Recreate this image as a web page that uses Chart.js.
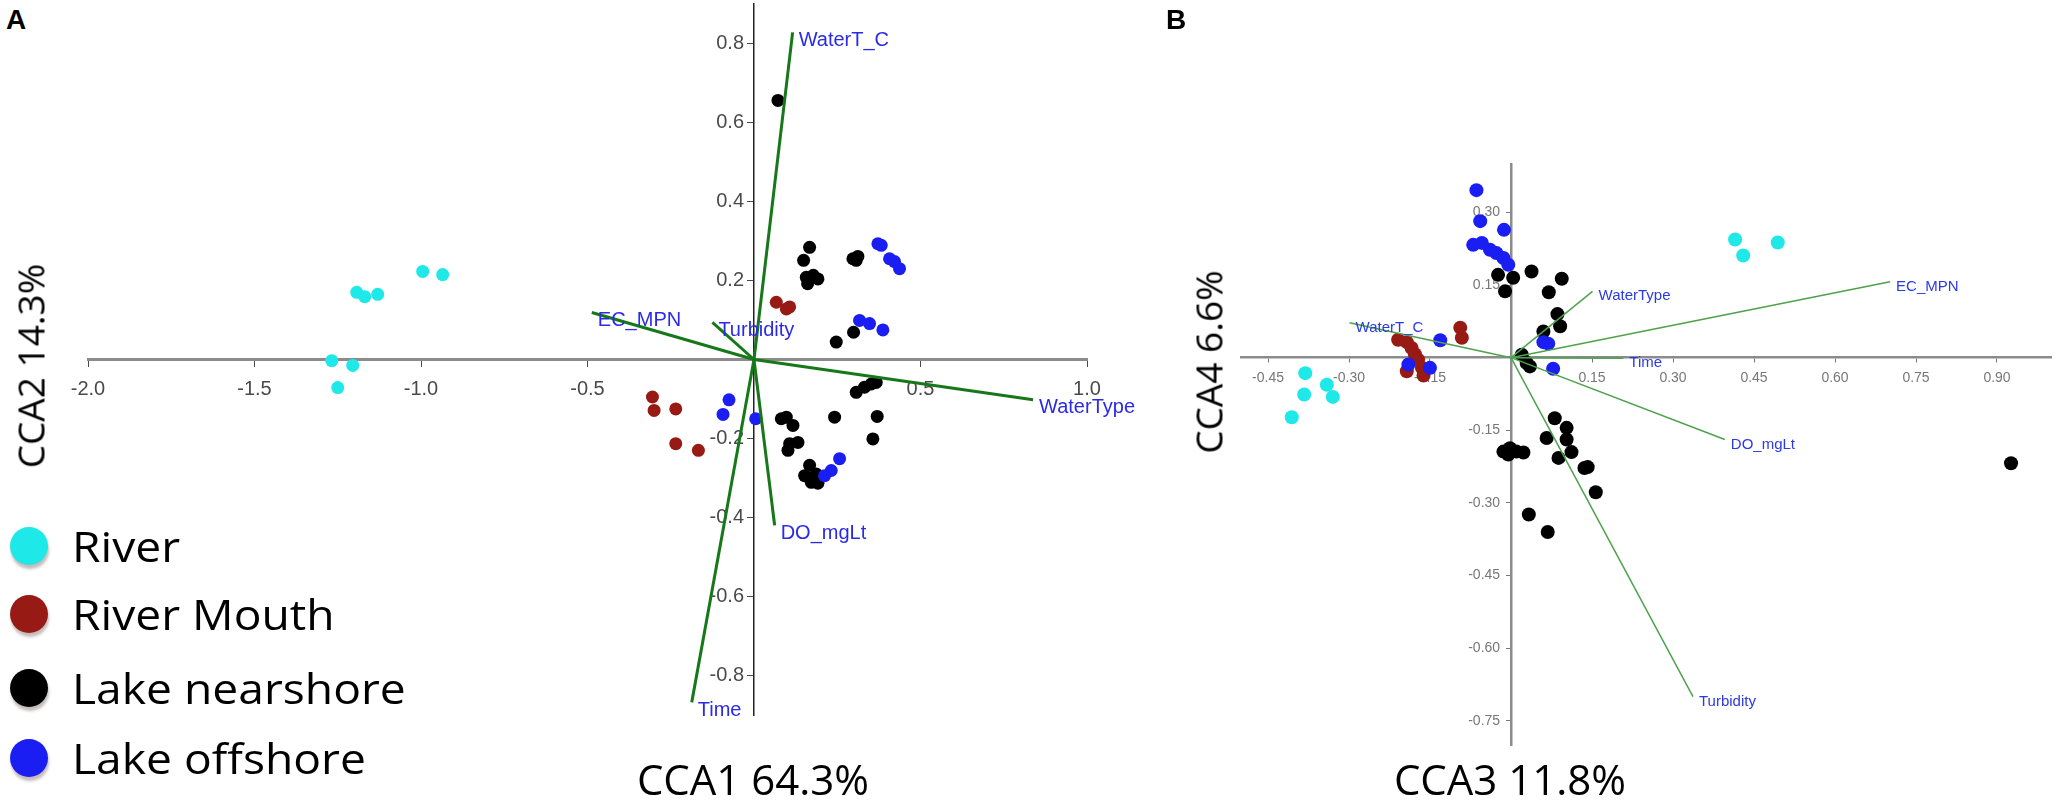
<!DOCTYPE html>
<html>
<head>
<meta charset="utf-8">
<script src="https://cdn.jsdelivr.net/npm/chart.js@4.4.1/dist/chart.umd.min.js"></script>
<style>
  html, body { margin: 0; padding: 0; background: #fff; }
  body { width: 2057px; height: 806px; position: relative; overflow: hidden; font-family: "Open Sans", sans-serif; }
  canvas { position: absolute; }
  .panel { position: absolute; font-family: "Liberation Sans", Arial, sans-serif; font-weight: bold; font-size: 28px; line-height: 28px; }
  .xtitle { position: absolute; font-size: 42px; line-height: 42px; white-space: nowrap; transform: translateX(-50%); }
  .ytitle { position: absolute; font-size: 37px; line-height: 37px; white-space: nowrap; transform: translate(-50%, -50%) rotate(-90deg); }
  .leg { position: absolute; left: 10px; height: 40px; display: flex; align-items: center; }
  .leg span.dot { width: 38px; height: 38px; border-radius: 50%; box-shadow: 1px 4px 3px rgba(90,60,60,0.35); }
  .leg span.txt { margin-left: 24px; font-size: 42px; line-height: 42px; white-space: nowrap; transform: scaleX(1.1); transform-origin: left center; }
</style>
</head>
<body>
<canvas id="chartA" width="1119" height="791" style="left:48px; top:-36px;"></canvas>
<canvas id="chartB" width="890" height="661" style="left:1201px; top:124px;"></canvas>

<div class="panel" style="left:6px; top:6px;">A</div>
<div class="panel" style="left:1166px; top:6px;">B</div>
<div class="xtitle" style="left:753px; top:758px;">CCA1 64.3%</div>
<div class="xtitle" style="left:1510px; top:758px;">CCA3 11.8%</div>
<div class="ytitle" style="left:30px; top:366px;">CCA2 14.3%</div>
<div class="ytitle" style="left:1208px; top:362px;">CCA4 6.6%</div>
<div id="legend"></div>

<script>
const groupNames = ['River', 'River Mouth', 'Lake nearshore', 'Lake offshore'];
const groupColors = ['#1ee8e8', '#981a14', '#000000', '#1a1ef2'];
const envNames = ['WaterT_C', 'EC_MPN', 'Turbidity', 'WaterType', 'DO_mgLt', 'Time'];

// panel A : CCA1 vs CCA2
const riverA = [[-0.995, 0.223], [-0.935, 0.215], [-1.193, 0.170], [-1.169, 0.159], [-1.130, 0.165],
  [-1.268, -0.003], [-1.205, -0.015], [-1.250, -0.071]];
const mouthA = [[0.067, 0.145], [0.097, 0.128], [0.107, 0.133], [-0.305, -0.095], [-0.300, -0.129],
  [-0.235, -0.125], [-0.235, -0.213], [-0.167, -0.230]];
const nearA = [[0.167, 0.284], [0.149, 0.251], [0.157, 0.208], [0.178, 0.213], [0.192, 0.204], [0.161, 0.192],
  [0.297, 0.255], [0.312, 0.261], [0.307, 0.251], [0.299, 0.069], [0.247, 0.044],
  [0.307, -0.083], [0.332, -0.070], [0.352, -0.062], [0.367, -0.058], [0.242, -0.146], [0.370, -0.144], [0.357, -0.201],
  [0.082, -0.150], [0.097, -0.146], [0.117, -0.167], [0.107, -0.213], [0.132, -0.210], [0.102, -0.230],
  [0.167, -0.268], [0.152, -0.294], [0.172, -0.311], [0.192, -0.313], [0.187, -0.290], [0.072, 0.656]];
const offA = [[0.372, 0.293], [0.382, 0.289], [0.407, 0.255], [0.422, 0.248], [0.437, 0.230],
  [0.317, 0.099], [0.347, 0.091], [0.387, 0.075], [-0.075, -0.102], [-0.093, -0.139], [0.005, -0.150],
  [0.257, -0.251], [0.232, -0.281], [0.212, -0.294]];
const envXA = [0.116, -0.487, -0.125, 0.838, 0.062, -0.187];
const envYA = [0.828, 0.119, 0.094, -0.102, -0.420, -0.868];
const xTicksA = [-2.0, -1.5, -1.0, -0.5, 0.5, 1.0];
const yTicksA = [0.8, 0.6, 0.4, 0.2, -0.2, -0.4, -0.6, -0.8];

// panel B : CCA3 vs CCA4
const riverB = [[-0.381, -0.032], [-0.383, -0.076], [-0.406, -0.123], [-0.341, -0.056], [-0.330, -0.081],
  [0.415, 0.244], [0.430, 0.211], [0.494, 0.238]];
const mouthB = [[-0.094, 0.062], [-0.091, 0.041], [-0.209, 0.037], [-0.193, 0.032], [-0.184, 0.020],
  [-0.178, 0.007], [-0.172, -0.004], [-0.165, -0.021], [-0.162, -0.037], [-0.193, -0.028]];
const nearB = [[-0.024, 0.171], [0.004, 0.165], [-0.011, 0.137], [0.038, 0.178], [0.094, 0.163], [0.070, 0.135],
  [0.086, 0.090], [0.091, 0.065], [0.060, 0.054], [0.020, 0.006], [0.029, -0.011], [0.035, -0.018],
  [0.081, -0.125], [0.103, -0.145], [0.066, -0.166], [0.103, -0.169], [0.112, -0.195], [0.088, -0.207],
  [0.136, -0.228], [0.142, -0.226], [0.157, -0.278], [0.033, -0.324], [0.068, -0.360],
  [-0.014, -0.194], [-0.002, -0.187], [0.010, -0.194], [0.023, -0.196], [-0.005, -0.200], [0.926, -0.218]];
const offB = [[-0.064, 0.346], [-0.057, 0.282], [-0.013, 0.264], [-0.070, 0.233], [-0.054, 0.237], [-0.039, 0.223],
  [-0.027, 0.216], [-0.014, 0.206], [-0.005, 0.192], [-0.131, 0.036], [-0.190, -0.014], [-0.150, -0.021],
  [0.060, 0.032], [0.069, 0.029], [0.078, -0.023]];
const envXB = [-0.299, 0.702, 0.337, 0.151, 0.396, 0.208];
const envYB = [0.072, 0.157, -0.700, 0.137, -0.169, -0.001];
const xTicksB = [-0.45, -0.30, -0.15, 0.15, 0.30, 0.45, 0.60, 0.75, 0.90];
const yTicksB = [0.30, 0.15, -0.15, -0.30, -0.45, -0.60, -0.75];

// draws the variable names at the end of each arrow
const envLabels = {
  id: 'envLabels',
  afterDatasetsDraw(chart, args, o) {
    const ctx = chart.ctx;
    ctx.save();
    ctx.font = o.font;
    ctx.fillStyle = o.color;
    ctx.textAlign = 'left';
    ctx.textBaseline = 'middle';
    chart.data.datasets.forEach((ds, i) => {
      if (ds.type !== 'line') return;
      const end = chart.getDatasetMeta(i).data[1];
      ctx.fillText(ds.label, end.x + o.dx, end.y + o.dy);
    });
    ctx.restore();
  }
};

function biplot(id, groups, envX, envY, s) {
  const datasets = [];
  envNames.forEach((n, i) => datasets.push({
    type: 'line', label: n,
    data: [{x: 0, y: 0}, {x: envX[i], y: envY[i]}],
    borderColor: s.arrowColor, borderWidth: s.arrowWidth,
    pointRadius: 0, showLine: true, fill: false, order: 0
  }));
  groups.forEach((g, i) => datasets.push({
    label: groupNames[i],
    data: g.map(p => ({x: p[0], y: p[1]})),
    backgroundColor: groupColors[i], borderColor: groupColors[i],
    pointRadius: s.r, pointBorderWidth: 0, order: 4 - i
  }));

  return new Chart(document.getElementById(id), {
    type: 'scatter',
    data: { datasets: datasets },
    plugins: [envLabels],
    options: {
      responsive: false,
      animation: false,
      layout: { padding: { left: 40, top: 40, bottom: 40, right: s.padRight } },
      plugins: {
        legend: { display: false },
        tooltip: { enabled: false },
        envLabels: { font: s.envFont, color: s.envColor, dx: s.envDx, dy: s.envDy }
      },
      scales: {
        x: {
          type: 'linear', position: { y: 0 }, min: s.xMin, max: s.xMax,
          afterBuildTicks: sc => { sc.ticks = s.xTicks.map(v => ({ value: v })); },
          ticks: {
            autoSkip: false, maxRotation: 0, padding: s.xPad,
            font: { family: 'Liberation Sans', size: s.tickSize }, color: s.tickColor,
            callback: v => Number(v).toFixed(s.dec)
          },
          grid: { display: true, drawOnChartArea: false, tickLength: s.tickLen, tickColor: s.tickColor },
          border: { display: true, color: s.xAxisColor, width: s.xAxisWidth }
        },
        y: {
          type: 'linear', position: { x: 0 }, min: s.yMin, max: s.yMax,
          afterBuildTicks: sc => { sc.ticks = s.yTicks.map(v => ({ value: v })); },
          ticks: {
            autoSkip: false, padding: s.yPad,
            font: { family: 'Liberation Sans', size: s.tickSize }, color: s.tickColor,
            // labels sit right-aligned on the axis, so keep a gap for the tick mark
            callback: v => Number(v).toFixed(s.dec) + s.yGap
          },
          grid: { display: true, drawOnChartArea: false, tickLength: s.tickLen, tickColor: s.tickColor },
          border: { display: true, color: s.yAxisColor, width: s.yAxisWidth }
        }
      }
    }
  });
}

biplot('chartA', [riverA, mouthA, nearA, offA], envXA, envYA, {
  xMin: -2.0, xMax: 1.0, yMin: -0.9, yMax: 0.9, xTicks: xTicksA, yTicks: yTicksA, dec: 1,
  r: 6.5, arrowColor: '#17781a', arrowWidth: 3, padRight: 80,
  envFont: '20px "Liberation Sans"', envColor: '#2a2ae8', envDx: 6, envDy: 8,
  tickSize: 20, tickColor: '#4a4a4a', tickLen: 6, xPad: 12, yPad: 3, yGap: '\u2002',
  xAxisColor: '#8c8c8c', xAxisWidth: 3, yAxisColor: '#222', yAxisWidth: 1.5
});

biplot('chartB', [riverB, mouthB, nearB, offB], envXB, envYB, {
  xMin: -0.5, xMax: 1.0, yMin: -0.8, yMax: 0.4, xTicks: xTicksB, yTicks: yTicksB, dec: 2,
  r: 7, arrowColor: '#4ea24e', arrowWidth: 1.5, padRight: 40,
  envFont: '15px "Liberation Sans"', envColor: '#2a3ae8', envDx: 6, envDy: 5,
  tickSize: 14, tickColor: '#777', tickLen: 4, xPad: 8, yPad: 5, yGap: '\u2002 ',
  xAxisColor: '#8c8c8c', xAxisWidth: 2.5, yAxisColor: '#8c8c8c', yAxisWidth: 2.5
});

// legend
const legendTops = [526, 594, 668, 738];
const legend = document.getElementById('legend');
groupNames.forEach((n, i) => {
  const d = document.createElement('div');
  d.className = 'leg';
  d.style.top = legendTops[i] + 'px';
  d.innerHTML = '<span class="dot" style="background:' + groupColors[i] + '"></span><span class="txt">' + n + '</span>';
  legend.appendChild(d);
});
</script>
</body>
</html>
